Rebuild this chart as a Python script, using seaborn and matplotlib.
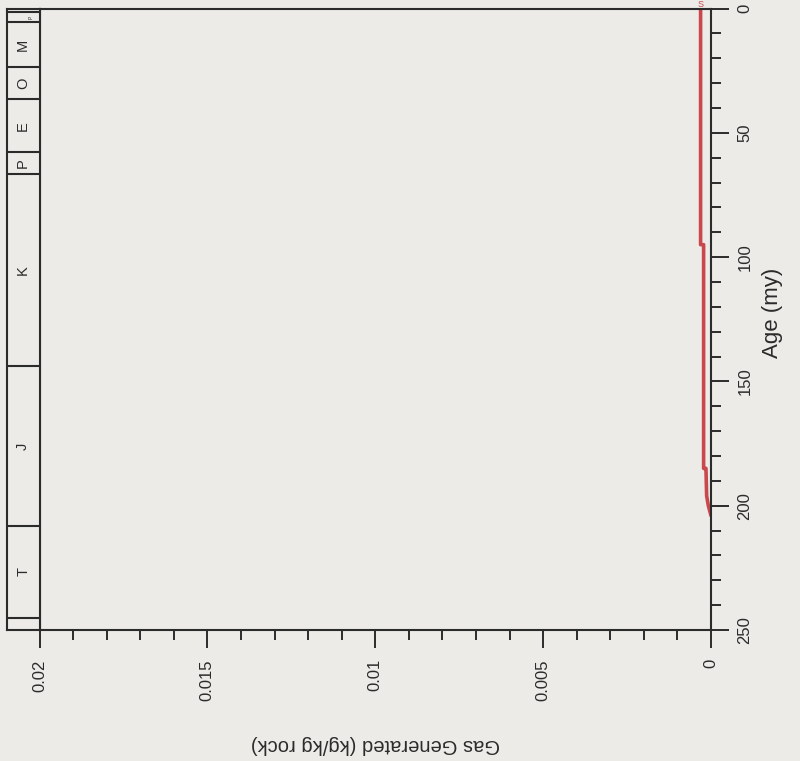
import numpy as np
import pandas as pd
import matplotlib
matplotlib.use("Agg")
import matplotlib.pyplot as plt
import seaborn as sns

# gas generated vs. age
age_my = [0, 95, 95, 185, 185, 196, 200, 204]
gas_gen = [0.00031, 0.00031, 0.00022, 0.00022, 0.00015, 0.00013, 0.00008, 0.0]

# geologic time scale (DNAG style)
period_bounds = [0, 1.6, 5.3, 23.7, 36.6, 57.8, 66.4, 144, 208, 245, 250]
period_names = ["", "", "M", "O", "E", "P", "K", "J", "T", ""]

gas_ticks = [0.02, 0.015, 0.01, 0.005, 0]
gas_ticklabels = ["0.02", "0.015", "0.01", "0.005", "0"]
age_ticks = [0, 50, 100, 150, 200, 250]

sns.set_style("white")
plt.rcParams["font.family"] = ["Liberation Sans", "DejaVu Sans"]

bg = "#ecebe8"
ink = "#2b2b2b"
red = "#c9484b"

fig = plt.figure(figsize=(8, 7.61), dpi=100, facecolor=bg)
W, H = 800, 761
x0, x1, y0, y1 = 39.5, 711, 8.5, 630
ax = fig.add_axes([x0 / W, 1 - y1 / H, (x1 - x0) / W, (y1 - y0) / H])
ax.set_facecolor(bg)

df = pd.DataFrame({"age": age_my, "gas": gas_gen})
sns.lineplot(data=df, x="gas", y="age", orient="y", sort=False, estimator=None,
             color=red, lw=2.6, ax=ax)

ax.set_xlim(0.02, 0)
ax.set_ylim(250, 0)
ax.set_xticks(gas_ticks, gas_ticklabels, rotation=90)
ax.set_xticks(np.arange(0, 0.0201, 0.001), minor=True)
ax.set_yticks(age_ticks, [str(a) for a in age_ticks], rotation=90)
ax.set_yticks(np.arange(0, 251, 10), minor=True)
ax.yaxis.tick_right()
ax.xaxis.tick_bottom()
for lab in ax.get_yticklabels():
    lab.set_va("center")
ax.tick_params(which="both", bottom=True, top=False, left=False, right=True)
ax.tick_params(which="major", length=13, width=1.4, color=ink, direction="out",
               labelsize=12, labelcolor=ink)
ax.tick_params(which="minor", length=7, width=1.4, color=ink, direction="out")
ax.tick_params(axis="x", pad=8)
ax.tick_params(axis="y", pad=6)
for s in ax.spines.values():
    s.set_color(ink)
    s.set_linewidth(1.5)

ax.set_xlabel("Gas Generated (kg/kg rock)", fontsize=14.5, rotation=180, color=ink)
ax.xaxis.set_label_coords(0.5, -0.185)
ax.xaxis.label.set_va("center")
ax.set_ylabel("Age (my)", fontsize=16, rotation=90, color=ink)
ax.yaxis.set_label_position("right")
ax.yaxis.set_label_coords(1.091, 0.51)
ax.yaxis.label.set_va("center")

# time scale column on the left
cax = fig.add_axes([7 / W, 1 - y1 / H, (x0 - 7) / W, (y1 - y0) / H], sharey=ax)
cax.set_facecolor(bg)
cax.set_xlim(0, 1)
cax.set_ylim(250, 0)
cax.set_xticks([])
cax.tick_params(left=False, right=False, bottom=False, labelleft=False,
                labelright=False)
for s in cax.spines.values():
    s.set_color(ink)
    s.set_linewidth(1.5)
for b in period_bounds[1:-1]:
    cax.axhline(b, color=ink, lw=1.5)
for i, name in enumerate(period_names):
    if name:
        mid = (period_bounds[i] + period_bounds[i + 1]) / 2
        cax.text(0.5, mid, name, rotation=90, ha="center", va="center",
                 fontsize=10.5, color=ink)
cax.text(0.75, 3.4, "P", rotation=90, ha="center", va="center", fontsize=3.5, color=ink)

# small label above the curve
fig.text(701 / W, 1.0, "S", color=red, fontsize=6.5, ha="center", va="top")

fig.savefig("out.png", dpi=100, facecolor=bg)
